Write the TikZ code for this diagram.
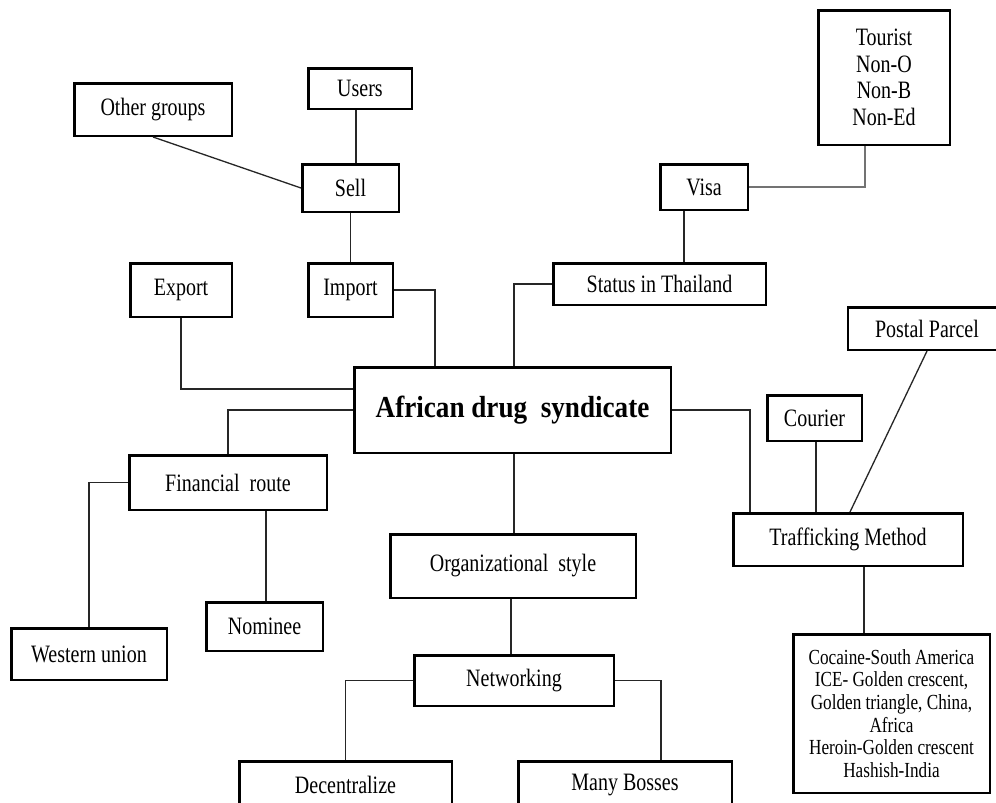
\documentclass[tikz,border=0pt]{standalone}
\usepackage{fontspec}
\setmainfont[FakeStretch=0.8]{Liberation Serif}
\newfontfamily\titlefont[FakeStretch=0.89]{Liberation Serif}
\begin{document}
\begin{tikzpicture}[x=1pt,y=-1pt,
  box/.style={draw=black, line width=2.5pt, inner sep=0pt, align=center,
    font=\fontsize{25}{27}\selectfont},
  conn/.style={draw=black!85, line width=1.3pt},
  lconn/.style={draw=black!55, line width=1.8pt}]
\useasboundingbox (0,0) rectangle (996,803);
\fill[white] (0,0) rectangle (996,803);
\clip (0,0) rectangle (996,803);
% nodes
\node[box, minimum width=157.5pt, minimum height=52.5pt] (other) at (153,109.5) {Other groups};
\node[box, minimum width=103.5pt, minimum height=40.5pt] (users) at (360,88.5) {Users};
\node[box, minimum width=96.5pt, minimum height=47.5pt] (sell) at (350.5,188) {Sell};
\node[box, minimum width=101.5pt, minimum height=53.5pt] (export) at (181,290) {Export};
\node[box, minimum width=84.5pt, minimum height=53.5pt] (import) at (350.5,290) {Import};
\node[box, minimum width=131.5pt, minimum height=134.5pt, font=\fontsize{25}{26.5}\selectfont] (tourist) at (884,77.5) {Tourist\\Non-O\\Non-B\\Non-Ed};
\node[box, minimum width=87.5pt, minimum height=45.5pt] (visa) at (704,187) {Visa};
\node[box, minimum width=212.5pt, minimum height=41.5pt] (status) at (659.5,284) {Status in Thailand};
\node[box, minimum width=158pt, minimum height=42.5pt] (postal) at (927,328.5) {Postal Parcel};
\node[box, minimum width=316.5pt, minimum height=85.5pt] (african) at (512.5,410) {{\titlefont\bfseries\fontsize{30.5}{33}\selectfont African drug\ \ syndicate}};
\node[box, minimum width=94.5pt, minimum height=45.5pt] (courier) at (814.5,418) {Courier};
\node[box, minimum width=197.5pt, minimum height=54.5pt] (financial) at (228,482.5) {Financial\ \ route};
\node[box, minimum width=245.5pt, minimum height=63.5pt] (org) at (513,566) {Organizational\ \ style};
\node[box, minimum width=229.5pt, minimum height=52.5pt] (traff) at (848,539.5) {Trafficking Method};
\node[box, minimum width=155.5pt, minimum height=51.5pt] (western) at (89,654) {Western union};
\node[box, minimum width=116.5pt, minimum height=48.5pt] (nominee) at (264.5,626.5) {Nominee};
\node[box, minimum width=196.5pt, minimum height=158.5pt, font=\fontsize{21.5}{22.7}\selectfont] (cocaine) at (891.5,713.5) {Cocaine-South America\\ICE- Golden crescent,\\Golden triangle,\ China,\\Africa\\Heroin-Golden crescent\\Hashish-India};
\node[box, minimum width=199.5pt, minimum height=50.5pt] (networking) at (514,680.5) {Networking};
\node[box, minimum width=212.5pt, minimum height=47.5pt] (decentral) at (345.5,785) {Decentralize};
\node[box, minimum width=213.5pt, minimum height=47.5pt] (bosses) at (625,785) {Many Bosses};
% connectors
\draw[conn] (other.south) -- (sell.west);
\draw[conn] ([xshift=-4pt]users.south) -- ([xshift=-4pt]users.south |- sell.north);
\draw[conn] (sell.south) -- (import.north);
\draw[conn] (import.east) -| ([xshift=-77.5pt]african.north);
\draw[conn] (export.south) |- ([yshift=21pt]african.west);
\draw[conn] (status.west) -| ([xshift=1.5pt]african.north);
\draw[conn] ([xshift=-20pt]visa.south) -- ([xshift=-20pt]visa.south |- status.north);
\draw[lconn] (visa.east) -| ([xshift=-19pt]tourist.south);
\draw[conn] (african.east) -| ([xshift=-98pt]traff.north);
\draw[conn] ([xshift=1.5pt]courier.south) -- ([xshift=1.5pt]courier.south |- traff.north);
\draw[conn] (postal.south) -- ([xshift=2pt]traff.north);
\draw[conn] ([xshift=16pt]traff.south) -- ([xshift=16pt]traff.south |- cocaine.north);
\draw[conn] (african.west) -| (financial.north);
\draw[conn] (financial.west) -| (western.north);
\draw[conn] ([xshift=38pt]financial.south) -- ([xshift=38pt]financial.south |- nominee.north);
\draw[conn] ([xshift=1.5pt]african.south) -- ([xshift=1.5pt]african.south |- org.north);
\draw[conn] ([xshift=-2pt]org.south) -- ([xshift=-2pt]org.south |- networking.north);
\draw[conn] (networking.west) -| (decentral.north);
\draw[conn] (networking.east) -| ([xshift=36pt]bosses.north);
\end{tikzpicture}
\end{document}
